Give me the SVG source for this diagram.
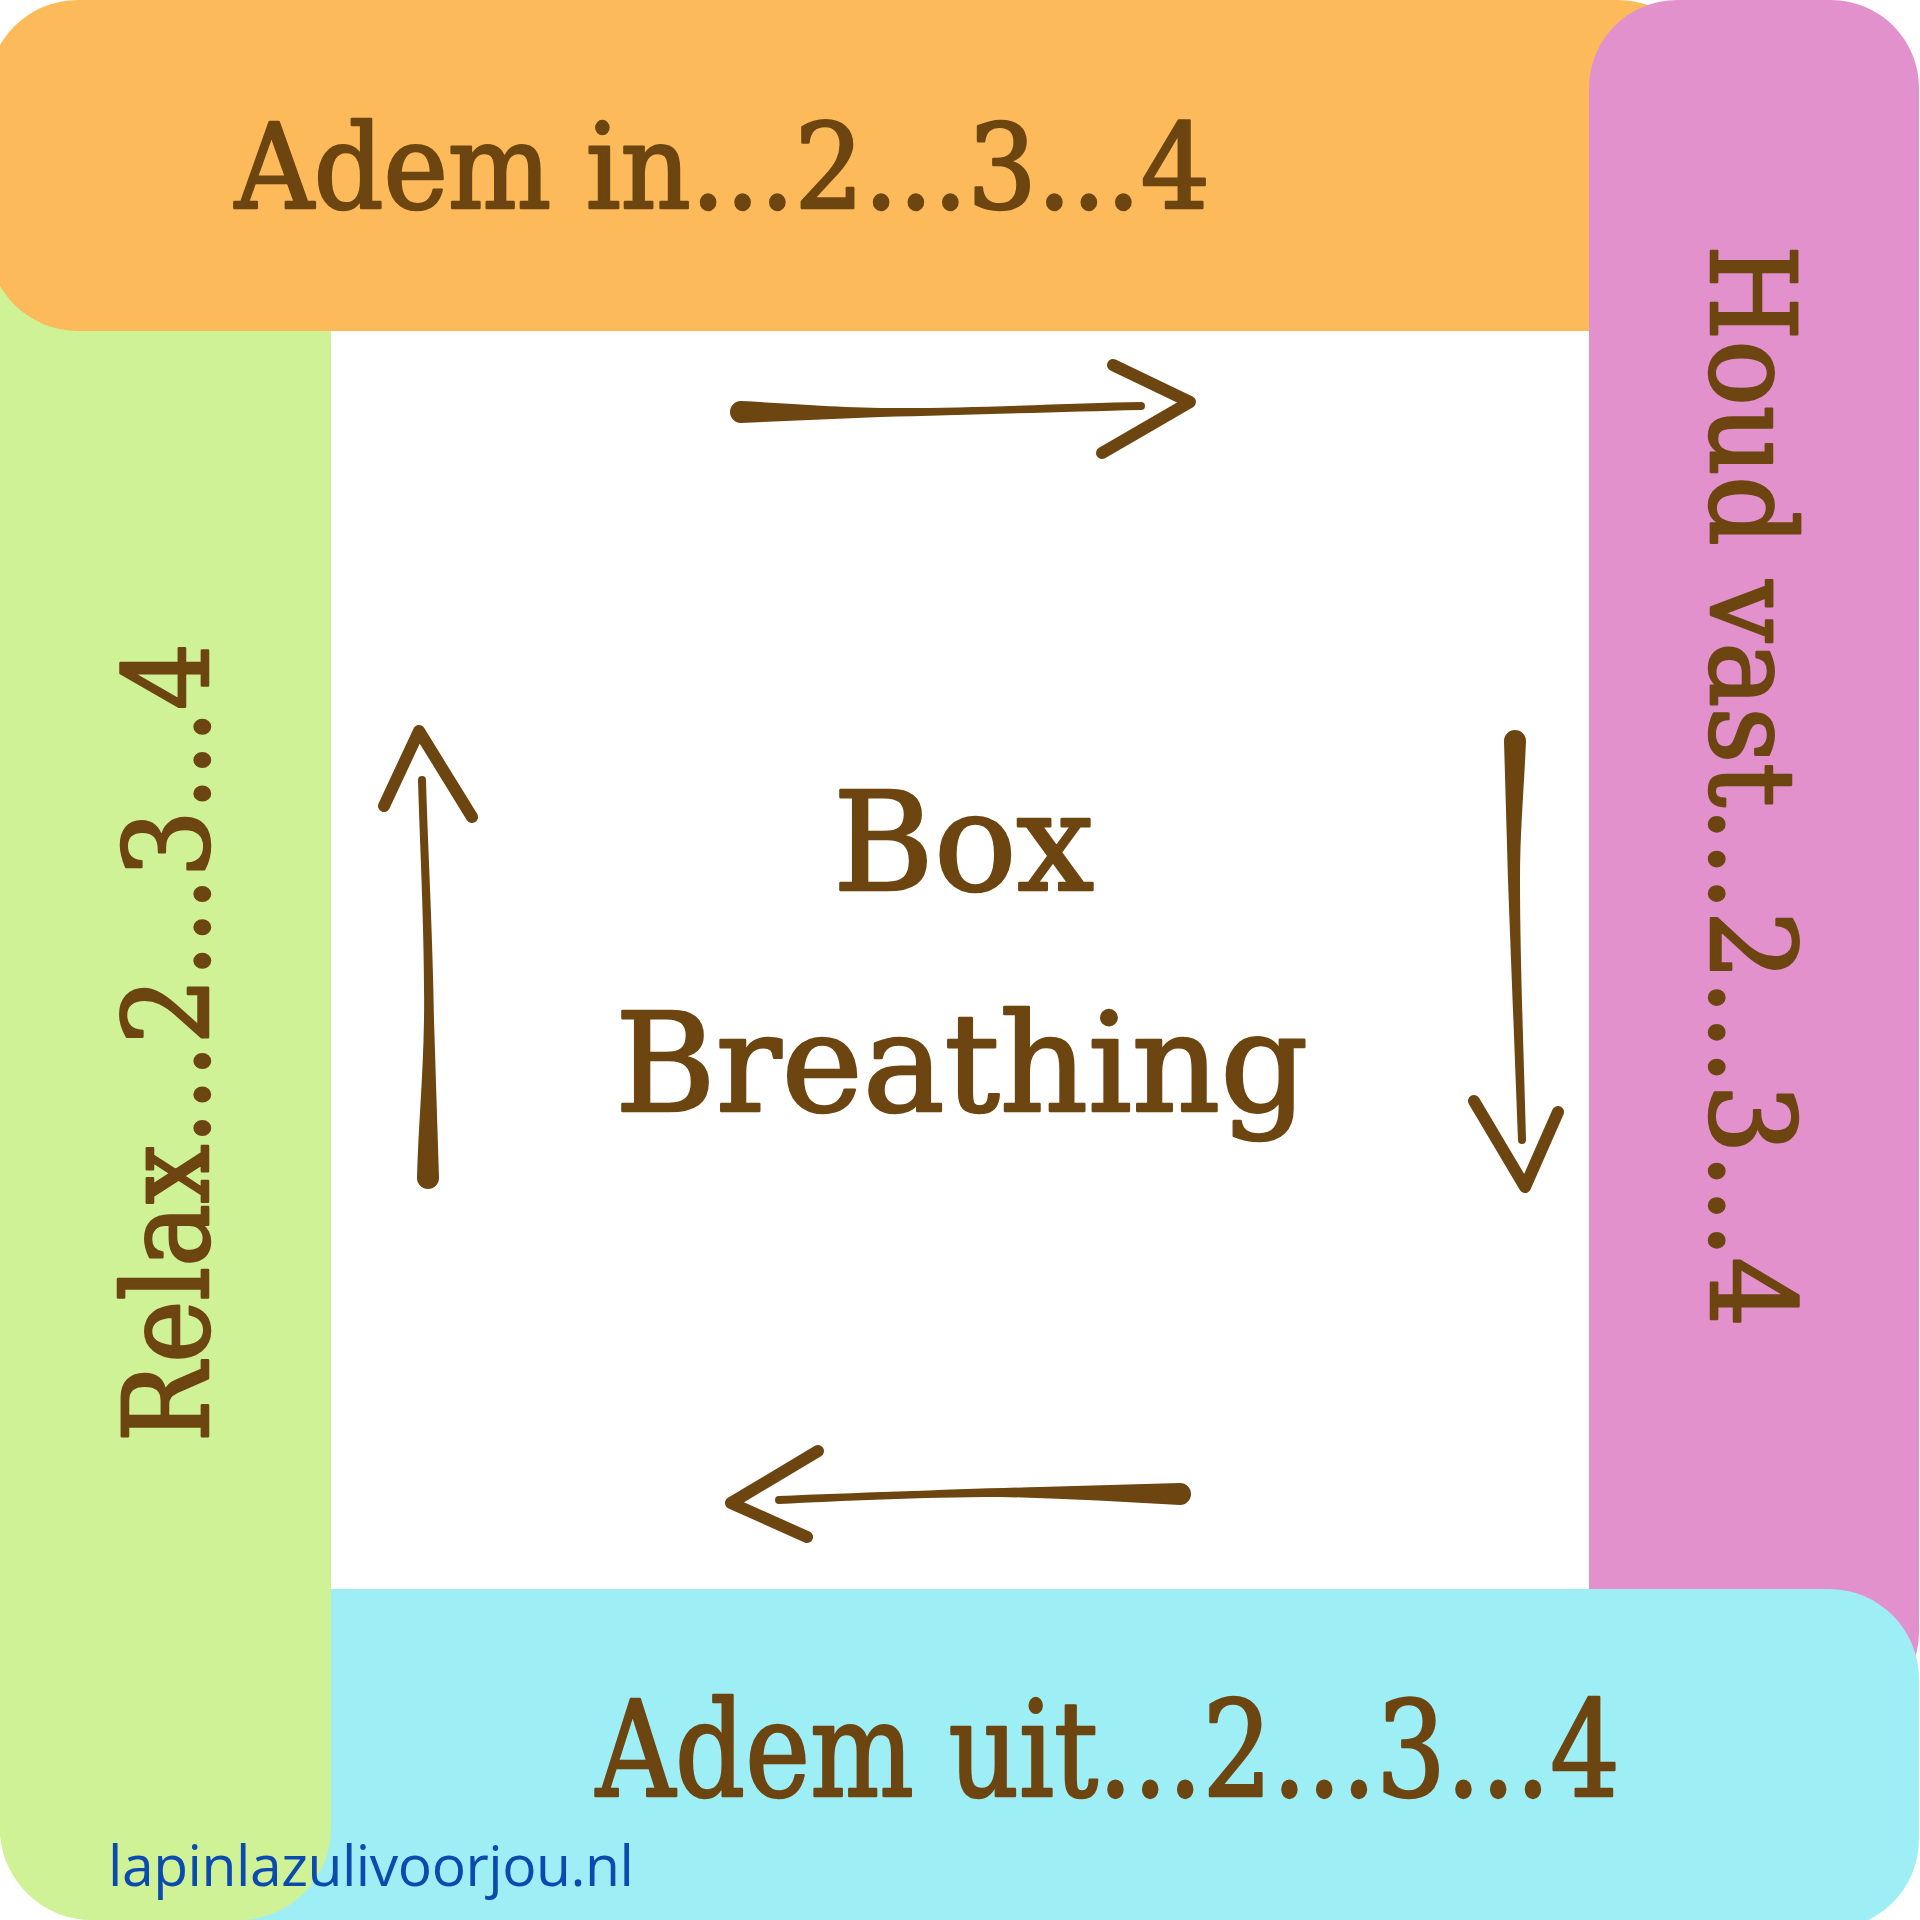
<svg xmlns="http://www.w3.org/2000/svg" xmlns:xlink="http://www.w3.org/1999/xlink" width="1920" height="1920" viewBox="0 0 1920 1920">
<style>
.lbl{font-family:"DejaVu Serif","Liberation Serif",serif;font-stretch:condensed;font-weight:normal;fill:#6D4510;stroke:#6D4510;stroke-width:2.5;stroke-linejoin:round;}
.shaft{fill:#6D4510;stroke:none;}
.barb{fill:none;stroke:#6D4510;stroke-width:12;stroke-linecap:round;stroke-linejoin:round;}
.web{font-family:"Open Sans","Noto Sans",sans-serif;fill:#0B4AAF;}
</style>
<defs>
<rect id="greenRect" x="0" y="150" width="331" height="1770" rx="92" ry="92" fill="#CFF297"/>
<clipPath id="bottomClip"><rect x="0" y="1500" width="400" height="420"/></clipPath>
</defs>
<rect x="0" y="0" width="1920" height="1920" fill="#FFFFFF"/>
<g id="band-left-base"><use xlink:href="#greenRect" href="#greenRect"/></g>
<g id="band-top">
<rect x="-12" y="0" width="1720" height="331" rx="90" ry="90" fill="#FDBA5B"/>
<text class="lbl" x="235" y="208" font-size="118" textLength="975" lengthAdjust="spacingAndGlyphs">Adem in...2...3...4</text>
</g>
<g id="band-right">
<rect x="1589" y="0" width="330" height="1720" rx="88" ry="88" fill="#E291CD"/>
<text class="lbl" transform="translate(1711,245) rotate(90)" font-size="118" textLength="1082" lengthAdjust="spacingAndGlyphs">Houd vast...2...3...4</text>
</g>
<g id="band-bottom">
<rect x="150" y="1589" width="1769" height="340" rx="90" ry="90" fill="#9EEEF5"/>
<text class="lbl" x="596" y="1796" font-size="132" textLength="1024" lengthAdjust="spacingAndGlyphs">Adem uit...2...3...4</text>
</g>
<g id="band-left">
<use xlink:href="#greenRect" href="#greenRect" clip-path="url(#bottomClip)"/>
<text class="lbl" transform="translate(208,1442) rotate(-90)" font-size="118" textLength="799" lengthAdjust="spacingAndGlyphs">Relax...2...3...4</text>
</g>
<g id="title">
<text class="lbl" x="833" y="890" font-size="137" textLength="261" lengthAdjust="spacingAndGlyphs">Box</text>
<text class="lbl" x="615" y="1111" font-size="137" textLength="693" lengthAdjust="spacingAndGlyphs">Breathing</text>
</g>
<g id="connectors">
<g id="arrow-right">
<path class="shaft" d="M 741 401 C 800 404, 840 408, 900 408 C 980 408, 1080 403, 1141 402 A 4 4 0 0 1 1141 410 C 1060 412, 960 415, 880 417 L 741 423 A 11 11 0 0 1 741 401 Z"/>
<path class="barb" d="M 1113 365 L 1190 402 L 1102 453"/>
</g>
<g id="arrow-down">
<path class="shaft" d="M 1504 741 A 11 11 0 0 1 1526 741 C 1524 790, 1520 830, 1520 880 C 1520 960, 1524 1060, 1526 1140 A 4 4 0 0 1 1518 1140 C 1515 1060, 1511 960, 1508 880 L 1504 741 Z"/>
<path class="barb" d="M 1474 1101 L 1525 1187 L 1558 1112"/>
</g>
<g id="arrow-left">
<path class="shaft" d="M 1180 1483 A 11 11 0 0 1 1180 1505 C 1120 1502, 1060 1498, 1000 1497 C 920 1497, 840 1501, 779 1504 A 4 4 0 0 1 779 1496 C 860 1493, 960 1489, 1040 1487 L 1180 1483 Z"/>
<path class="barb" d="M 818 1451 L 731 1503 L 807 1537"/>
</g>
<g id="arrow-up">
<path class="shaft" d="M 439 1178 A 11 11 0 0 1 417 1178 C 418 1130, 423 1080, 424 1020 C 425 940, 420 850, 418 780 A 4 4 0 0 1 426 780 C 428 850, 433 940, 434 1020 L 439 1178 Z"/>
<path class="barb" d="M 384 806 L 419 731 L 472 817"/>
</g>
</g>
<g id="website">
<text class="web" x="108" y="1886" font-size="57" textLength="526">lapinlazulivoorjou.nl</text>
</g>
</svg>
